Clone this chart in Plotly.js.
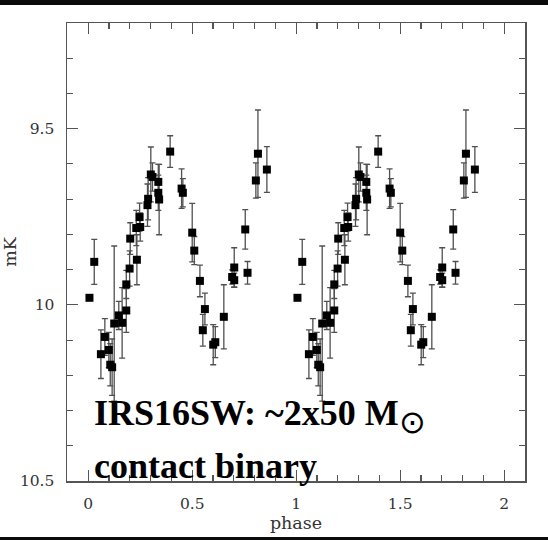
<!DOCTYPE html>
<html>
<head>
<meta charset="utf-8">
<script src="https://cdn.plot.ly/plotly-3.0.1.min.js"></script>
<style>
  html, body { margin: 0; padding: 0; background: #0b0b0b; width: 548px; height: 540px; overflow: hidden; }
  #chart { position: absolute; left: 0; top: 5px; width: 548px; height: 532px; background: #ffffff; }
</style>
</head>
<body>
<div id="chart"></div>
<script>
// Phase-folded light curve of IRS16SW (first cycle)
const phase1 = [0.006, 0.029, 0.061, 0.080, 0.099, 0.106, 0.115, 0.125, 0.147, 0.163,
                0.183, 0.183, 0.199, 0.202, 0.234, 0.231, 0.250, 0.247, 0.285, 0.288,
                0.301, 0.309, 0.337, 0.337, 0.341, 0.394, 0.449, 0.455, 0.500, 0.510,
                0.537, 0.561, 0.551, 0.601, 0.611, 0.652, 0.692, 0.702, 0.702, 0.766,
                0.755, 0.806, 0.816, 0.859];
const mag1 =   [9.980, 9.878, 10.140, 10.091, 10.128, 10.170, 10.177, 10.053, 10.030, 10.051,
                10.016, 9.942, 9.897, 9.812, 9.872, 9.782, 9.779, 9.751, 9.717, 9.699,
                9.630, 9.637, 9.651, 9.682, 9.701, 9.565, 9.670, 9.682, 9.795, 9.846,
                9.932, 10.012, 10.072, 10.113, 10.106, 10.034, 9.921, 9.930, 9.894, 9.909,
                9.786, 9.647, 9.571, 9.616];
const err1 =   [0.000, 0.064, 0.069, 0.052, 0.050, 0.060, 0.080, 0.220, 0.040, 0.100,
                0.062, 0.040, 0.050, 0.045, 0.071, 0.050, 0.040, 0.040, 0.060, 0.060,
                0.078, 0.040, 0.050, 0.050, 0.100, 0.045, 0.056, 0.040, 0.083, 0.040,
                0.045, 0.045, 0.045, 0.057, 0.044, 0.091, 0.020, 0.020, 0.056, 0.032,
                0.056, 0.050, 0.124, 0.065];
// Same observations repeated for the second cycle
const phase2 = [1.006, 1.029, 1.061, 1.080, 1.099, 1.106, 1.115, 1.125, 1.147, 1.163,
                1.183, 1.183, 1.199, 1.202, 1.234, 1.231, 1.250, 1.247, 1.285, 1.288,
                1.301, 1.309, 1.337, 1.337, 1.341, 1.394, 1.449, 1.455, 1.500, 1.510,
                1.537, 1.561, 1.551, 1.601, 1.611, 1.652, 1.692, 1.702, 1.702, 1.766,
                1.755, 1.806, 1.816, 1.859];
const mag2 = mag1;
const err2 = err1;

const xTickVals = [0, 0.5, 1, 1.5, 2];
const xTickText = ['0', '0.5', '1', '1.5', '2'];
const yTickVals = [9.5, 10, 10.5];
const yTickText = ['9.5', '10', '10.5'];

const markerStyle = { symbol: 'square', size: 8, color: '#000000' };
const errStyle = { type: 'data', visible: true, color: '#505050', thickness: 1.3, width: 3 };

const traces = [
  { x: phase1, y: mag1, error_y: Object.assign({ array: err1 }, errStyle),
    mode: 'markers', type: 'scatter', marker: markerStyle, showlegend: false, cliponaxis: false },
  { x: phase2, y: mag2, error_y: Object.assign({ array: err2 }, errStyle),
    mode: 'markers', type: 'scatter', marker: markerStyle, showlegend: false, cliponaxis: false }
];

const tickFont = { family: 'DejaVu Serif', size: 15.5, color: '#333333' };
const axisCommon = {
  showgrid: false, zeroline: false,
  showline: true, linecolor: '#555555', linewidth: 1.5, mirror: 'ticks',
  ticks: 'inside', ticklen: 11, tickwidth: 1.2, tickcolor: '#555555',
  tickfont: tickFont, ticklabelstandoff: 8
};

const layout = {
  width: 548, height: 532,
  margin: { l: 67, r: 23, t: 18, b: 56 },
  paper_bgcolor: '#ffffff', plot_bgcolor: '#ffffff',
  xaxis: Object.assign({}, axisCommon, {
    range: [-0.102, 2.1],
    tickmode: 'array', tickvals: xTickVals, ticktext: xTickText,
    minor: { ticks: 'inside', ticklen: 6, dtick: 0.1, tick0: 0, tickwidth: 1.1, tickcolor: '#555555' },
    title: { text: 'phase', font: { family: 'DejaVu Serif', size: 17.5, color: '#333333' }, standoff: 1 }
  }),
  yaxis: Object.assign({}, axisCommon, {
    range: [10.5, 9.2],
    tickmode: 'array', tickvals: yTickVals, ticktext: yTickText,
    minor: { ticks: 'inside', ticklen: 6, dtick: 0.1, tick0: 9.2, tickwidth: 1.1, tickcolor: '#555555' },
    title: { text: 'mK', font: { family: 'DejaVu Serif', size: 17.5, color: '#333333' }, standoff: 0 }
  }),
  annotations: [
    { xref: 'paper', yref: 'paper', x: 0.054, y: 0.14, xanchor: 'left', yanchor: 'middle',
      text: 'IRS16SW: ~2x50 M<sub><span style="font-size:32px;font-weight:normal">⊙</span></sub>', showarrow: false,
      font: { family: 'Liberation Serif', size: 36, color: '#000000', weight: 'bold' } },
    { xref: 'paper', yref: 'paper', x: 0.054, y: 0.032, xanchor: 'left', yanchor: 'middle',
      text: 'contact binary', showarrow: false,
      font: { family: 'Liberation Serif', size: 36, color: '#000000', weight: 'bold' } }
  ]
};

Plotly.newPlot('chart', traces, layout, { displayModeBar: false, staticPlot: true });
</script>
</body>
</html>
